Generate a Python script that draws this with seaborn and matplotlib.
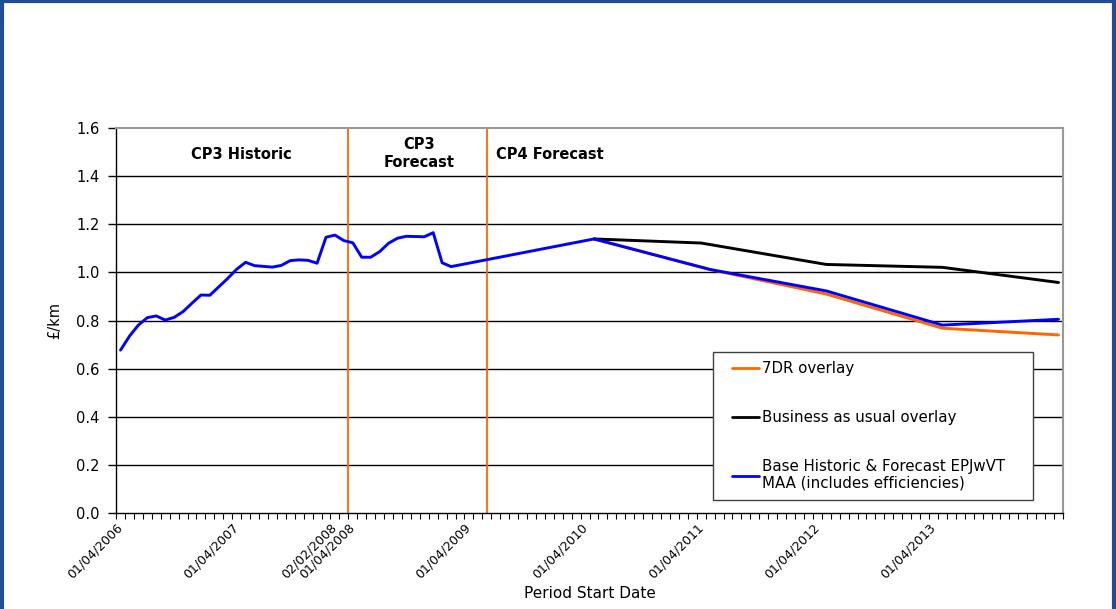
import numpy as np
import pandas as pd
import matplotlib
matplotlib.use("Agg")
import matplotlib.pyplot as plt
import seaborn as sns
from matplotlib.lines import Line2D
from matplotlib.legend_handler import HandlerLine2D

# ---------------- data ----------------
# x = 4-weekly period index (0 = period starting 01/04/2006)
base_x = list(range(0, 38)) + [53, 66, 79, 92, 105]
base_y = [0.677, 0.735, 0.781, 0.812, 0.819, 0.802, 0.813, 0.837, 0.872, 0.906,
          0.905, 0.940, 0.975, 1.013, 1.042, 1.028, 1.025, 1.022, 1.029, 1.049,
          1.052, 1.050, 1.038, 1.146, 1.155, 1.132, 1.123, 1.063, 1.063, 1.086,
          1.121, 1.142, 1.150, 1.149, 1.148, 1.165, 1.040, 1.024,
          1.139, 1.012, 0.923, 0.781, 0.805]

bau_x = [53, 65, 79, 92, 105]
bau_y = [1.139, 1.122, 1.033, 1.021, 0.958]

sevendr_x = [53, 66, 79, 92, 105]
sevendr_y = [1.139, 1.012, 0.910, 0.768, 0.740]

n_periods = 106
tick_pos = [0, 13, 24, 26, 39, 52, 65, 78, 91]
tick_labels = ["01/04/2006", "01/04/2007", "02/02/2008", "01/04/2008", "01/04/2009",
               "01/04/2010", "01/04/2011", "01/04/2012", "01/04/2013"]
cp_boundaries = [25.5, 41.0]

series_names = ["7DR overlay", "Business as usual overlay",
                "Base Historic & Forecast EPJwVT\nMAA (includes efficiencies)"]
series_colors = ["#FF6600", "#000000", "#0000FF"]

df = pd.concat([
    pd.DataFrame({"period": sevendr_x, "value": sevendr_y, "series": series_names[0]}),
    pd.DataFrame({"period": bau_x, "value": bau_y, "series": series_names[1]}),
    pd.DataFrame({"period": base_x, "value": base_y, "series": series_names[2]}),
])

# ---------------- figure ----------------
sns.set_style("white")
plt.rcParams["font.family"] = ["DejaVu Sans"]
plt.rcParams["text.color"] = "black"
plt.rcParams["axes.labelcolor"] = "black"
plt.rcParams["xtick.color"] = "black"
plt.rcParams["ytick.color"] = "black"

fig = plt.figure(figsize=(11.16, 6.09), dpi=100)
ax = fig.add_axes([0.104, 0.1576, 0.8485, 0.6322])

# gridlines
for yv in np.arange(0.2, 1.5, 0.2):
    ax.axhline(yv, color="black", lw=1.0, zorder=1)

for xb in cp_boundaries:
    ax.axvline(xb, color="#FF6600", lw=1.3, zorder=2)

sns.lineplot(data=df, x="period", y="value", hue="series", hue_order=series_names,
             palette=series_colors, linewidth=2.1, ax=ax, sort=False,
             estimator=None, legend=True, zorder=3)

ax.set_xlim(-0.5, n_periods - 0.5)
ax.set_ylim(0, 1.6)
yt = np.arange(0, 1.61, 0.2)
ax.set_yticks(yt)
ax.set_yticklabels([f"{v:.1f}" for v in yt], fontsize=10.5, color="black")
ax.tick_params(axis="y", which="major", direction="out", length=6, width=1,
               color="black", labelcolor="black", pad=6, left=True)

ax.set_xticks(tick_pos)
ax.set_xticklabels(tick_labels, rotation=45, ha="right", va="center",
                   rotation_mode="anchor", fontsize=9, color="black")
ax.tick_params(axis="x", which="major", length=0, pad=9, bottom=True,
               labelcolor="black")
ax.set_xticks(np.arange(-0.5, n_periods, 1.0), minor=True)
ax.tick_params(axis="x", which="minor", direction="out", length=4, width=0.8,
               color="black", bottom=True)

for s in ["left", "bottom"]:
    ax.spines[s].set_color("black")
    ax.spines[s].set_linewidth(1.0)
for s in ["top", "right"]:
    ax.spines[s].set_color("#999999")
    ax.spines[s].set_linewidth(1.5)

ax.set_ylabel("£/km", fontsize=10.5, color="black")
ax.yaxis.set_label_coords(-0.057, 0.5)
ax.set_xlabel("Period Start Date", fontsize=11, color="black")
ax.xaxis.set_label_coords(0.5, -0.19)

# section labels
ax.text(13.5, 1.488, "CP3 Historic", ha="center", va="center", fontsize=10.5,
        fontweight="bold", color="black")
ax.text(33.4, 1.492, "CP3\nForecast", ha="center", va="center", fontsize=10.5,
        fontweight="bold", linespacing=1.25, color="black")
ax.text(42.0, 1.488, "CP4 Forecast", ha="left", va="center", fontsize=10.5,
        fontweight="bold", color="black")

# legend
handles, labels = ax.get_legend_handles_labels()
leg = ax.legend(handles, labels, loc="upper left",
                bbox_to_anchor=(0.630, 0.034, 0.338, 0.384), mode="expand",
                fontsize=10.8, frameon=True, fancybox=False, edgecolor="#404040",
                labelspacing=2.25, handlelength=2.5, handletextpad=0.2,
                borderpad=0.6, borderaxespad=0, labelcolor="black",
                handler_map={Line2D: HandlerLine2D(xpad=0.7)})
leg.get_frame().set_linewidth(1.0)
leg.get_frame().set_facecolor("white")
leg.get_frame().set_alpha(1)
for line in leg.get_lines():
    line.set_linewidth(2.0)

# outer frame (left, top, right)
frame_col = "#1F4E96"
fig.add_artist(Line2D([0.002, 0.002], [0, 1], transform=fig.transFigure, color=frame_col, lw=3))
fig.add_artist(Line2D([0, 1], [0.998, 0.998], transform=fig.transFigure, color=frame_col, lw=3))
fig.add_artist(Line2D([0.998, 0.998], [0, 1], transform=fig.transFigure, color=frame_col, lw=3))

fig.savefig("out.png", dpi=100)
